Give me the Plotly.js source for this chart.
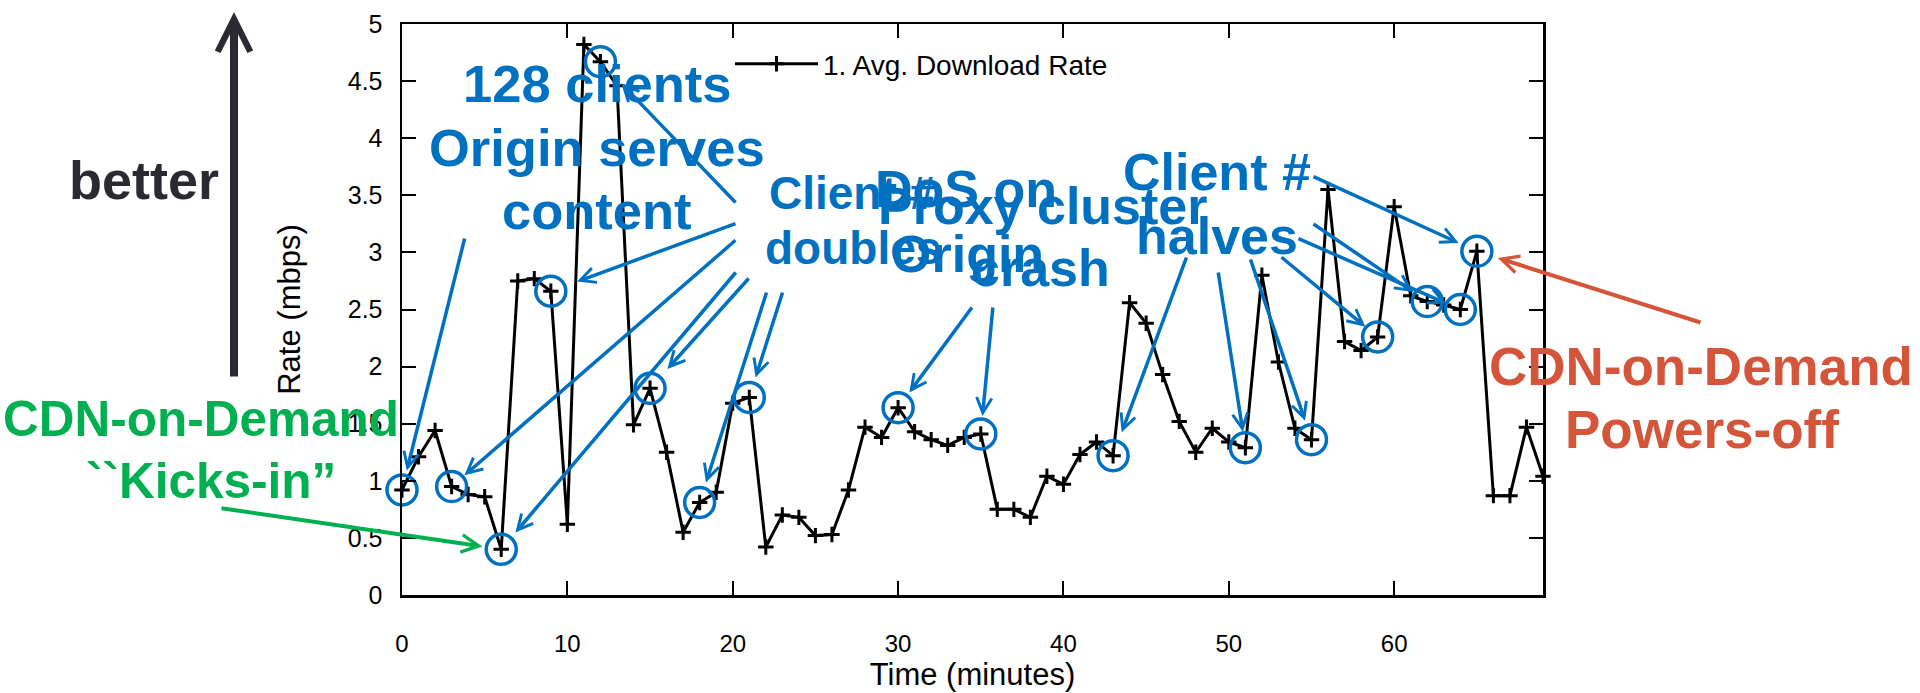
<!DOCTYPE html>
<html><head><meta charset="utf-8">
<script src="https://cdn.plot.ly/plotly-3.0.1.min.js"></script>
<style>html,body{margin:0;padding:0;background:#fff}#chart{width:1920px;height:693px}</style>
</head><body><div id="chart"></div>
<script>
// ---------- data ----------
const minutes = [0,1,2,3,4,5,6,7,8,9,10,11,12,13,14,15,16,17,18,19,20,21,22,23,24,25,26,27,28,29,
  30,31,32,33,34,35,36,37,38,39,40,41,42,43,44,45,46,47,48,49,50,51,52,53,54,55,56,57,58,59,
  60,61,62,63,64,65,66,67,68,69];
const rates = [0.92,1.21,1.44,0.95,0.88,0.86,0.40,2.75,2.77,2.66,
  0.62,4.82,4.67,4.46,1.49,1.81,1.25,0.55,0.81,0.90,
  1.68,1.73,0.42,0.70,0.68,0.52,0.53,0.92,1.47,1.38,
  1.64,1.43,1.36,1.31,1.38,1.41,0.75,0.75,0.68,1.04,
  0.97,1.23,1.34,1.22,2.56,2.38,1.93,1.52,1.25,1.46,
  1.34,1.29,2.80,2.04,1.46,1.36,3.55,2.22,2.14,2.26,
  3.40,2.62,2.57,2.54,2.50,3.01,0.87,0.87,1.47,1.04];
const seriesName = '1. Avg. Download Rate';
const circledMinutes = [0,3,6,9,12,15,18,21,30,35,43,51,55,59,62,64,65];
const xTickValues = [0,10,20,30,40,50,60];
const yTickValues = [0,0.5,1,1.5,2,2.5,3,3.5,4,4.5,5];
const xTitle = 'Time (minutes)';
const yTitle = 'Rate (mbps)';
const linesClients128 = ['128 clients','Origin serves','content'];
const linesDoubles = ['Client #','doubles'];
const linesDos = ['DoS on','Origin'];
const linesProxy = ['Proxy cluster','crash'];
const linesHalves = ['Client #','halves'];
const linesKicksIn = ['CDN-on-Demand','``Kicks-in\u201d'];
const linesPowersOff = ['CDN-on-Demand','Powers-off'];
const txtBetter = 'better';
// which circled points each callout points to
const clients128Targets = [0];
const doublesTargets = [12,9,3,6,15,18,21];
const dosTargets = [30,35];
const halvesTargets = [43,51,55,59,62,64,65];
const powersOffTargets = [65];
const kicksInTargets = [6];

// ---------- geometry / style ----------
const W0 = 1920, H0 = 693;
const L = 402, R = 1543, T = 24, B = 595;
const PW = R - L, PH = B - T;
const XMAX = 69, YMAX = 5;
const FONT = 'Liberation Sans, Arial, Helvetica, sans-serif';
const BLUE = '#0070C0', GREEN = '#00B050', RED = '#D4553A', DARK = '#2B2A33';
const P = x => (x - L) / PW;         // pixel -> paper x
const Q = y => (B - y) / PH;         // pixel -> paper y
const DX = x => (x - L) / PW * XMAX; // pixel -> data x
const DY = y => (B - y) / PH * YMAX; // pixel -> data y
const rateAt = m => rates[minutes.indexOf(m)];

function label(text, cx, cy, size, color) {
  return {xref:'paper', yref:'paper', x:P(cx), y:Q(cy), text:text, showarrow:false,
    xanchor:'center', yanchor:'middle', align:'center',
    font:{family:FONT, size:size, color:color, weight:700}};
}
function block(lines, cx, cys, size, color) {
  return lines.map((t, i) => label(t, cx[i], cys[i], size, color));
}
function arrow(m, tx, ty, color, standoff, width) {
  return {xref:'x', yref:'y', x:m, y:rateAt(m), axref:'x', ayref:'y', ax:DX(tx), ay:DY(ty),
    showarrow:true, arrowhead:5, arrowsize:0.85, arrowwidth:width || 3.5, arrowcolor:color,
    standoff:standoff, text:''};
}

// tails (pixel) and standoffs of the callout arrows
const tails = {
  clients128:{0:[465,237,20]},
  doubles:{12:[737,204,30], 9:[737,223,28], 3:[737,239,17], 6:[737,271,22],
    15:[750,277,26], 18:[767,291,21], 21:[783,291,21]},
  dos:{30:[973,306,19], 35:[993,306,18]},
  halves:{43:[1187,256,25], 51:[1218,271,16], 55:[1250,258,20], 59:[1280,256,16],
    62:[1312,223,17], 64:[1297,238,15], 65:[1312,176,20]},
  powersOff:{65:[1702,323,22]},
  kicksIn:{6:[220,508,19]}
};

const annotations = [];
function addArrows(targets, key, color, width) {
  targets.forEach(m => { const t = tails[key][m]; annotations.push(arrow(m, t[0], t[1], color, t[2], width)); });
}
addArrows(clients128Targets, 'clients128', BLUE);
addArrows(doublesTargets, 'doubles', BLUE);
addArrows(dosTargets, 'dos', BLUE);
addArrows(halvesTargets, 'halves', BLUE);
addArrows(powersOffTargets, 'powersOff', RED, 4);
addArrows(kicksInTargets, 'kicksIn', GREEN, 4);
// "better" arrow
annotations.push({xref:'paper', yref:'paper', x:P(234), y:Q(12), axref:'pixel', ayref:'pixel', ax:0, ay:366,
  showarrow:true, arrowhead:5, arrowsize:0.8, arrowwidth:8, arrowcolor:DARK, standoff:0, text:''});
// texts
annotations.push(...block(linesClients128, [597,597,597], [84,147,210], 52.5, BLUE));
annotations.push(...block(linesDoubles, [852,853], [193,248], 46, BLUE));
annotations.push(...block(linesDos, [966,967], [189,254], 52, BLUE));
annotations.push(...block(linesProxy, [1043,1040], [206,268], 52, BLUE));
annotations.push(...block(linesHalves, [1217,1217], [172,236], 52, BLUE));
annotations.push(...block(linesKicksIn, [201,211], [418,480], 49.5, GREEN));
annotations.push(...block(linesPowersOff, [1701,1702], [366,429], 53, RED));
annotations.push(label(txtBetter, 144, 180, 54, DARK));

const traces = [
  {type:'scatter', mode:'lines+markers', x:minutes, y:rates, name:seriesName,
   line:{color:'#000', width:3},
   marker:{symbol:'cross-thin', size:11, color:'#000', line:{width:3, color:'#000'}},
   cliponaxis:false, hoverinfo:'x+y'},
  {type:'scatter', mode:'markers', x:circledMinutes, y:circledMinutes.map(rateAt),
   showlegend:false, hoverinfo:'skip', cliponaxis:false,
   marker:{symbol:'circle-open', size:30, color:BLUE, line:{width:3.5, color:BLUE}}}
];

const axisCommon = {showline:true, linewidth:2.5, linecolor:'#000', mirror:'ticks',
  ticks:'inside', ticklen:14, tickwidth:2, tickcolor:'#000', showgrid:false, zeroline:false};

const layout = {
  width:W0, height:H0, paper_bgcolor:'#fff', plot_bgcolor:'#fff',
  margin:{l:L, r:W0-R, t:T, b:H0-B, pad:0},
  xaxis:Object.assign({}, axisCommon, {range:[0,XMAX], tickvals:xTickValues, ticklabelstandoff:26,
    tickfont:{family:FONT, size:24, color:'#000'},
    title:{text:xTitle, font:{family:FONT, size:31, color:'#000'}, standoff:4}}),
  yaxis:Object.assign({}, axisCommon, {range:[0,YMAX], tickvals:yTickValues, ticklabelstandoff:12,
    tickfont:{family:FONT, size:25, color:'#000'},
    title:{text:yTitle, font:{family:FONT, size:31, color:'#000'}, standoff:38}}),
  showlegend:true,
  legend:{x:P(730), y:Q(64), xanchor:'left', yanchor:'middle', bgcolor:'rgba(0,0,0,0)',
    font:{family:FONT, size:28, color:'#000'}, itemwidth:83},
  annotations:annotations
};

Plotly.newPlot('chart', traces, layout, {displayModeBar:false, staticPlot:true});
</script>
</body></html>
